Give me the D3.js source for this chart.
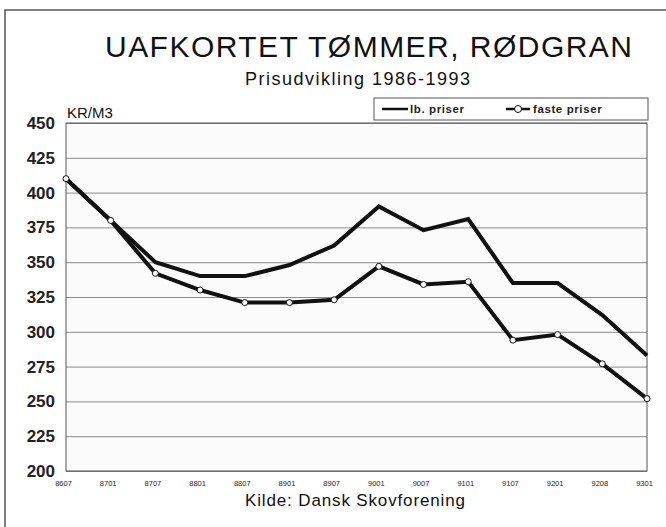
<!DOCTYPE html>
<html>
<head>
<meta charset="utf-8">
<script src="https://cdn.jsdelivr.net/npm/d3@7"></script>
<style>
  body { margin: 0; background: #fff; }
  svg { display: block; font-family: "Liberation Sans", Arial, sans-serif; }
</style>
</head>
<body>
<div id="chart"></div>
<script>
// periods (YYMM)
const periods = ["8607", "8701", "8707", "8801", "8807", "8901", "8907",
                 "9001", "9007", "9101", "9107", "9201", "9208", "9301"];
// current prices
const lbPriser = [410, 380, 350, 340, 340, 348, 362, 390, 373, 381, 335, 335, 312, 283];
// fixed prices
const fastePriser = [410, 380, 342, 330, 321, 321, 323, 347, 334, 336, 294, 298, 277, 252];
const yTicks = [200, 225, 250, 275, 300, 325, 350, 375, 400, 425, 450];

const width = 666, height = 527;
const plot = { left: 66, right: 647, top: 123, bottom: 471 };

const svg = d3.select("#chart").append("svg")
    .attr("width", width)
    .attr("height", height);

// outer frame (top + left only visible)
svg.append("path")
    .attr("d", `M5,527 L5,10 L666,10`)
    .attr("fill", "none")
    .attr("stroke", "#555")
    .attr("stroke-width", 1.5);

// titles
svg.append("text")
    .attr("x", 105).attr("y", 57)
    .attr("font-size", 30)
    .attr("textLength", 527)
    .attr("lengthAdjust", "spacing")
    .attr("fill", "#111")
    .text("UAFKORTET TØMMER, RØDGRAN");

svg.append("text")
    .attr("x", 245).attr("y", 85)
    .attr("font-size", 18)
    .attr("textLength", 225)
    .attr("lengthAdjust", "spacing")
    .attr("fill", "#111")
    .text("Prisudvikling 1986-1993");

const x = d3.scalePoint()
    .domain(periods)
    .range([plot.left, plot.right]);

const y = d3.scaleLinear()
    .domain([200, 450])
    .range([plot.bottom, plot.top]);

// plot background
svg.append("rect")
    .attr("x", plot.left).attr("y", plot.top)
    .attr("width", plot.right - plot.left)
    .attr("height", plot.bottom - plot.top)
    .attr("fill", "#fbfbfb");

// gridlines
const yAxis = d3.axisLeft(y)
    .tickValues(yTicks)
    .tickSize(-(plot.right - plot.left))
    .tickPadding(11);

const gy = svg.append("g")
    .attr("transform", `translate(${plot.left},0)`)
    .call(yAxis);
gy.select(".domain").remove();
gy.selectAll(".tick line")
    .attr("stroke", "#8a8a8a")
    .attr("stroke-width", 1);
gy.selectAll(".tick text")
    .attr("font-size", 17)
    .attr("font-weight", "bold")
    .attr("fill", "#222")
    .attr("font-family", "Liberation Sans, Arial, sans-serif");

// plot frame
svg.append("rect")
    .attr("x", plot.left).attr("y", plot.top)
    .attr("width", plot.right - plot.left)
    .attr("height", plot.bottom - plot.top)
    .attr("fill", "none")
    .attr("stroke", "#555")
    .attr("stroke-width", 1);

// x axis labels
const xAxis = d3.axisBottom(x).tickSize(0).tickPadding(10);
const gx = svg.append("g")
    .attr("transform", `translate(-3,${plot.bottom})`)
    .call(xAxis);
gx.select(".domain").remove();
gx.selectAll(".tick text")
    .attr("font-size", 7.5)
    .attr("fill", "#222")
    .attr("font-family", "Liberation Sans, Arial, sans-serif");

svg.append("text")
    .attr("x", 67).attr("y", 118)
    .attr("font-size", 15)
    .attr("fill", "#111")
    .text("KR/M3");

// lines
const line = d3.line()
    .x((d, i) => x(periods[i]))
    .y(d => y(d));

svg.append("path")
    .datum(lbPriser)
    .attr("fill", "none")
    .attr("stroke", "#111")
    .attr("stroke-width", 4)
    .attr("d", line);

svg.append("path")
    .datum(fastePriser)
    .attr("fill", "none")
    .attr("stroke", "#111")
    .attr("stroke-width", 4)
    .attr("d", line);

svg.selectAll("circle.faste")
    .data(fastePriser)
    .enter().append("circle")
      .attr("class", "faste")
      .attr("cx", (d, i) => x(periods[i]))
      .attr("cy", d => y(d))
      .attr("r", 3)
      .attr("fill", "#fff")
      .attr("stroke", "#111")
      .attr("stroke-width", 1);

// legend
const legend = svg.append("g");
legend.append("rect")
    .attr("x", 374).attr("y", 98)
    .attr("width", 274).attr("height", 22)
    .attr("fill", "#fff")
    .attr("stroke", "#555")
    .attr("stroke-width", 1);

legend.append("line")
    .attr("x1", 382).attr("x2", 408)
    .attr("y1", 109).attr("y2", 109)
    .attr("stroke", "#111").attr("stroke-width", 2.5);
legend.append("text")
    .attr("x", 410).attr("y", 113)
    .attr("font-size", 11.5)
    .attr("font-weight", "bold")
    .attr("letter-spacing", 0.6)
    .attr("fill", "#222")
    .text("lb. priser");

legend.append("line")
    .attr("x1", 506).attr("x2", 530)
    .attr("y1", 109).attr("y2", 109)
    .attr("stroke", "#111").attr("stroke-width", 2.5);
legend.append("circle")
    .attr("cx", 518).attr("cy", 109).attr("r", 3.5)
    .attr("fill", "#fff").attr("stroke", "#111").attr("stroke-width", 1);
legend.append("text")
    .attr("x", 533).attr("y", 113)
    .attr("font-size", 11.5)
    .attr("font-weight", "bold")
    .attr("letter-spacing", 0.6)
    .attr("fill", "#222")
    .text("faste priser");

// source
svg.append("text")
    .attr("x", 245).attr("y", 506)
    .attr("font-size", 17)
    .attr("textLength", 220)
    .attr("lengthAdjust", "spacing")
    .attr("fill", "#111")
    .text("Kilde: Dansk Skovforening");
</script>
</body>
</html>
